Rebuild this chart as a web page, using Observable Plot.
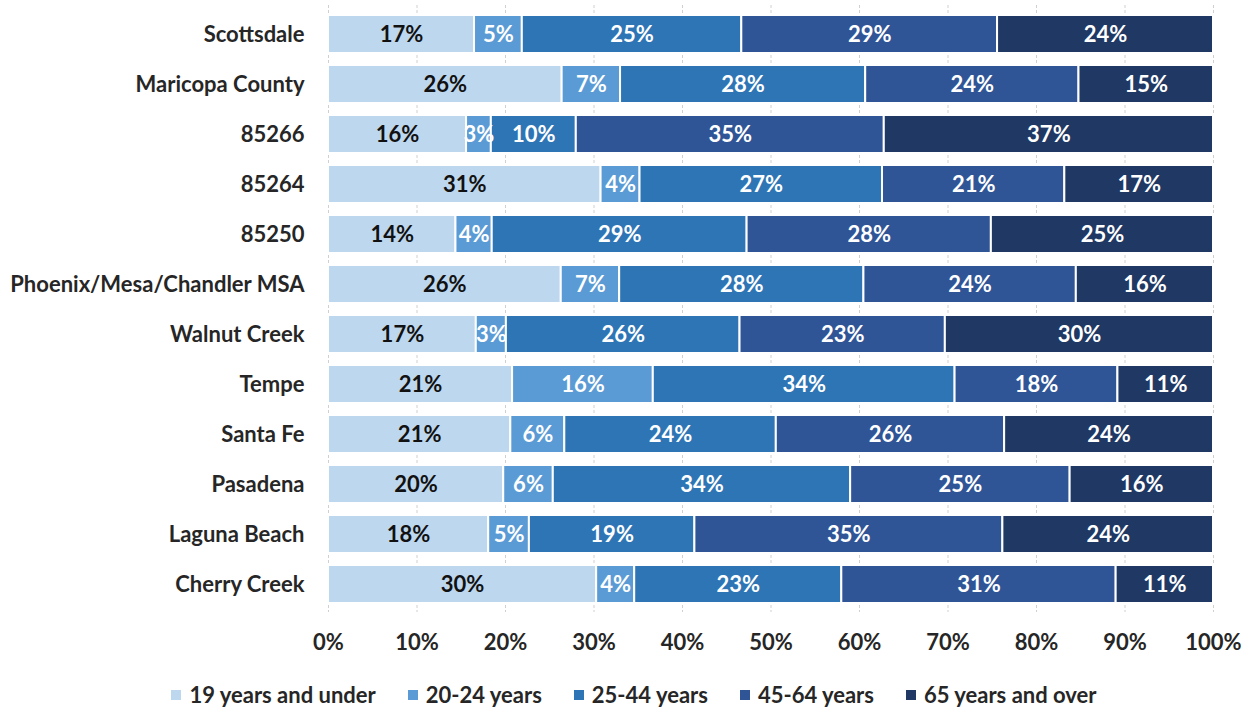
<!DOCTYPE html>
<html>
<head>
<meta charset="utf-8">
<script src="https://cdn.jsdelivr.net/npm/d3@7"></script>
<script src="https://cdn.jsdelivr.net/npm/@observablehq/plot@0.6"></script>
<style>
  html, body { margin: 0; padding: 0; background: #fff; }
  #chart { width: 1248px; height: 668px; }
  #chart svg { display: block; }
  .legend { display: flex; justify-content: center; align-items: center; gap: 32px;
            font-family: Lato, "Open Sans", sans-serif; font-weight: 700; font-size: 22px; line-height: 26px; color: #262626;
            margin-top: 14px; padding-left: 20px; }
  .legend .item { display: flex; align-items: center; gap: 8px; }
  .legend .sw { width: 10px; height: 10px; display: inline-block; }
</style>
</head>
<body>
<div id="chart"></div>
<script>
const places = ["Scottsdale", "Maricopa County", "85266", "85264", "85250", "Phoenix/Mesa/Chandler MSA",
  "Walnut Creek", "Tempe", "Santa Fe", "Pasadena", "Laguna Beach", "Cherry Creek"];
const ages = ["19 years and under", "20-24 years", "25-44 years", "45-64 years", "65 years and over"];
const under19   = [16.5, 26.4, 15.6, 30.8, 14.4, 26.3, 16.7, 20.8, 20.6, 19.8, 18.1, 30.3];
const age20to24 = [5.4, 6.6, 2.8, 4.4, 4.1, 6.6, 3.4, 15.9, 6.1, 5.6, 4.6, 4.3];
const age25to44 = [24.8, 27.7, 9.6, 27.4, 28.8, 27.6, 26.4, 34.1, 23.9, 33.6, 18.7, 23.4];
const age45to64 = [28.9, 24.1, 34.8, 20.6, 27.6, 24.0, 23.2, 18.4, 25.8, 24.8, 34.8, 31.0];
const age65plus = [24.4, 15.2, 37.2, 16.8, 25.1, 15.5, 30.3, 10.8, 23.6, 16.2, 23.8, 11.0];
const xTicks = [0, 10, 20, 30, 40, 50, 60, 70, 80, 90, 100];
const colors = ["#BDD7EE", "#5B9BD5", "#2E75B6", "#2F5597", "#1F3864"];

const series = [under19, age20to24, age25to44, age45to64, age65plus];
const data = [];
places.forEach((p, i) => {
  ages.forEach((a, j) => data.push({place: p, age: a, value: series[j][i]}));
});

const font = "Lato, 'Open Sans', sans-serif";

const chart = Plot.plot({
  width: 1248,
  height: 668,
  marginTop: 13,
  marginBottom: 63,
  marginLeft: 328,
  marginRight: 35,
  style: {fontFamily: font, fontWeight: 700, fontSize: "22px", color: "#262626", background: "#fff"},
  x: {domain: [0, 100], ticks: xTicks, tickFormat: d => d + "%", tickSize: 0, tickPadding: 29, label: null},
  y: {domain: places, paddingInner: 0.25, paddingOuter: 0, tickSize: 0, tickPadding: 24, label: null},
  color: {domain: ages, range: colors},
  marks: [
    Plot.gridX(xTicks, {stroke: "#d0d0d0", strokeOpacity: 1, strokeDasharray: "3,2", insetTop: -8, insetBottom: -7}),
    Plot.barX(data, Plot.stackX({x: "value", y: "place", fill: "age", stroke: "white", strokeWidth: 2, order: null})),
    Plot.text(data, Plot.stackX({x: "value", y: "place", z: "age", order: null,
      text: d => Math.round(d.value) + "%",
      fill: d => d.age === ages[0] ? "#111" : "#fff",
      fontSize: 22, fontWeight: 700}))
  ]
});
document.getElementById("chart").appendChild(chart);

const legend = document.createElement("div");
legend.className = "legend";
ages.forEach((a, j) => {
  const it = document.createElement("div");
  it.className = "item";
  it.innerHTML = `<span class="sw" style="background:${colors[j]}"></span><span>${a}</span>`;
  legend.appendChild(it);
});
document.body.appendChild(legend);
</script>
</body>
</html>
